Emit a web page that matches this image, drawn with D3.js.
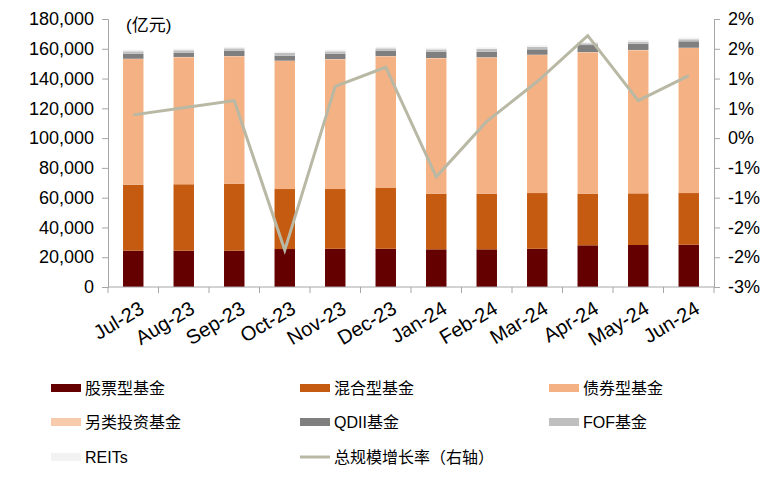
<!DOCTYPE html>
<html><head><meta charset="utf-8">
<script src="https://cdn.jsdelivr.net/npm/d3@7"></script>
<style>
html,body{margin:0;padding:0;background:#fff;}
svg text{font-family:"Liberation Sans",Arial,"Noto Sans CJK SC",sans-serif;fill:#000;}
</style></head>
<body>
<svg id="c" width="779" height="483"></svg>
<script>
const months = ["Jul-23","Aug-23","Sep-23","Oct-23","Nov-23","Dec-23","Jan-24","Feb-24","Mar-24","Apr-24","May-24","Jun-24"];
const stock  = [24400,24400,24400,25500,25700,25700,25300,25300,25700,28000,28200,28400];
const mixed  = [44300,44600,45000,40300,40100,40800,37400,37400,37400,34700,34700,34700];
const bond   = [84400,85300,85500,86000,87100,88400,90900,91400,92700,94900,96100,97400];
const alt    = [200,200,200,200,200,200,200,200,200,200,200,200];
const qdii   = [3400,2900,3600,3400,3600,3600,4200,3800,3600,4700,4200,4300];
const fof    = [1600,1600,1600,1800,1600,1600,1600,1800,1600,1200,1400,1400];
const reits  = [1100,1100,900,900,1100,1100,1100,1100,1100,900,1100,1100];
const growth = [0.39,0.51,0.63,-1.88,0.87,1.19,-0.65,0.28,0.95,1.72,0.63,1.05];
const leftTicks = [0,20000,40000,60000,80000,100000,120000,140000,160000,180000];
const rightTicks = [-2.5,-2.0,-1.5,-1.0,-0.5,0,0.5,1.0,1.5,2.0];
const rightTickLabels = ["-3%","-2%","-2%","-1%","-1%","0%","1%","1%","2%","2%"];
const seriesNames = ["股票型基金","混合型基金","债券型基金","另类投资基金","QDII基金","FOF基金","REITs"];
const seriesColors = ["#640000","#C55A11","#F4B183","#F8CBAD","#7F7F7F","#BFBFBF","#F2F2F2"];
const lineName = "总规模增长率（右轴）";
const lineColor = "#B8B8A4";
const unitLabel = "(亿元)";

const svg = d3.select("#c");
const L = 108, R = 714, T = 19, B = 287;
const x = d3.scaleBand().domain(months).range([L, R]).padding(0);
const y = d3.scaleLinear().domain([0,180000]).range([B, T]);
const y2 = d3.scaleLinear().domain([-2.5,2.0]).range([B, T]);
const axisColor = "#A6A6A6";

// stacked data
const seriesArr = [stock,mixed,bond,alt,qdii,fof,reits];
const rows = months.map((m,i)=>{const o={m}; seriesNames.forEach((n,k)=>o[n]=seriesArr[k][i]); return o;});
const stack = d3.stack().keys(seriesNames)(rows);
const bw = x.bandwidth()*0.405;
svg.append("g").selectAll("g").data(stack).join("g")
  .attr("fill",(d,i)=>seriesColors[i])
  .selectAll("rect").data(d=>d).join("rect")
  .attr("x",d=>x(d.data.m)+x.bandwidth()/2-bw/2)
  .attr("width",bw)
  .attr("y",d=>y(d[1]))
  .attr("height",d=>Math.max(0,y(d[0])-y(d[1])));

// left axis
const gl = svg.append("g").attr("transform",`translate(${L},0)`)
  .call(d3.axisLeft(y).tickValues(leftTicks).tickSize(6).tickPadding(8).tickFormat(d3.format(",")));
gl.select(".domain").attr("stroke",axisColor);
gl.selectAll(".tick line").attr("stroke",axisColor);
gl.selectAll(".tick text").style("font-size","18px");

// right axis
const gr = svg.append("g").attr("transform",`translate(${R},0)`)
  .call(d3.axisRight(y2).tickValues(rightTicks).tickSize(6).tickPadding(8).tickFormat((d,i)=>rightTickLabels[i]));
gr.select(".domain").attr("stroke",axisColor);
gr.selectAll(".tick line").attr("stroke",axisColor);
gr.selectAll(".tick text").style("font-size","18px");

// x axis
const gx = svg.append("g").attr("transform",`translate(0,${B})`);
gx.append("line").attr("x1",L).attr("x2",R).attr("stroke",axisColor);
gx.selectAll("line.t").data(d3.range(months.length+1)).join("line").attr("class","t")
  .attr("x1",i=>L+i*x.bandwidth()).attr("x2",i=>L+i*x.bandwidth()).attr("y1",0).attr("y2",6).attr("stroke",axisColor);
gx.selectAll("text").data(months).join("text")
  .attr("transform",d=>`translate(${x(d)+x.bandwidth()/2+5},${13}) rotate(-31)`)
  .attr("text-anchor","end").attr("dy","0.71em").style("font-size","20px").text(d=>d);

// line
const line = d3.line().x((d,i)=>x(months[i])+x.bandwidth()/2).y(d=>y2(d));
svg.append("path").datum(growth).attr("d",line).attr("fill","none")
  .attr("stroke",lineColor).attr("stroke-width",3).attr("stroke-linejoin","miter");

// unit label
svg.append("text").attr("x",126).attr("y",31).style("font-size","17px").text(unitLabel);

// legend
const colX = [51,300,549];
const rowY = [388,422,457];
const items = seriesNames.map((n,i)=>({n,c:seriesColors[i],type:"rect"})).concat([{n:lineName,c:lineColor,type:"line"}]);
items.forEach((it,i)=>{
  const cx = colX[i%3], cy = rowY[Math.floor(i/3)];
  const g = svg.append("g");
  if(it.type==="rect") g.append("rect").attr("x",cx).attr("y",cy-4).attr("width",30).attr("height",8).attr("fill",it.c);
  else g.append("line").attr("x1",cx).attr("x2",cx+30).attr("y1",cy).attr("y2",cy).attr("stroke",it.c).attr("stroke-width",3);
  g.append("text").attr("x",cx+34).attr("y",cy).attr("dy","0.36em").style("font-size","16px").text(it.n);
});
</script>
</body></html>
